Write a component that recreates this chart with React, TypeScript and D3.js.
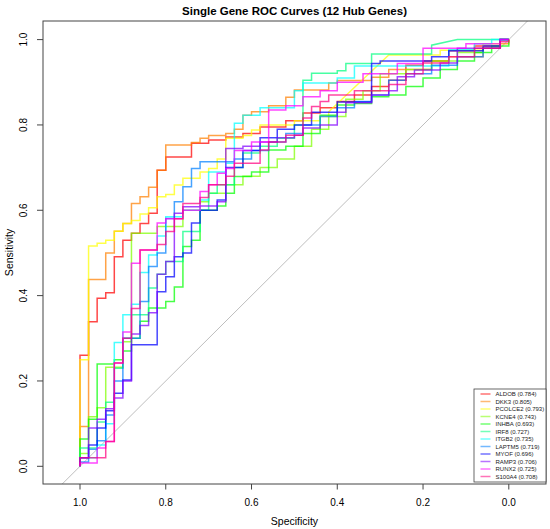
import React from 'react';
import * as d3 from 'd3';

// ---------- data ----------
const genes = ['ALDOB', 'DKK3', 'PCOLCE2', 'KCNE4', 'INHBA', 'IRF8', 'ITGB2', 'LAPTM5', 'MYOF', 'RAMP3', 'RUNX2', 'S100A4'];
const aucs = [0.784, 0.805, 0.793, 0.743, 0.693, 0.727, 0.735, 0.719, 0.696, 0.706, 0.725, 0.708];
const colors = ['#FF0000', '#FF8000', '#FFFF00', '#80FF00', '#00FF00', '#00FF80', '#00FFFF', '#0080FF', '#0000FF', '#8000FF', '#FF00FF', '#FF0080'];

// [specificity, sensitivity, diagonal?]
const aldob = [[1, 0], [1, 0.26], [0.98, 0.339], [0.96, 0.394], [0.94, 0.407], [0.92, 0.491], [0.9, 0.53], [0.88, 0.546], [0.86, 0.569], [0.84, 0.593], [0.82, 0.694], [0.8, 0.725], [0.74, 0.757], [0.7, 0.765], [0.66, 0.772], [0.62, 0.78], [0.58, 0.795], [0.52, 0.81], [0.48, 0.828], [0.44, 0.84], [0.4, 0.855], [0.36, 0.87], [0.32, 0.89], [0.28, 0.905], [0.24, 0.94], [0.2, 0.95], [0.14, 0.974], [0.08, 0.985], [0.02, 1], [0, 1]];
const dkk3 = [[1, 0], [1, 0.093], [0.98, 0.438], [0.94, 0.5], [0.92, 0.551], [0.9, 0.569], [0.88, 0.616], [0.86, 0.632], [0.84, 0.654], [0.82, 0.694], [0.8, 0.753], [0.74, 0.759], [0.72, 0.769], [0.7, 0.775], [0.66, 0.78], [0.64, 0.79], [0.62, 0.823], [0.6, 0.831], [0.56, 0.845], [0.52, 0.865], [0.5, 0.882], [0.42, 0.898], [0.4, 0.904], [0.32, 0.912], [0.28, 0.93], [0.18, 0.95], [0.14, 0.96], [0.06, 0.98], [0.02, 0.99], [0, 1]];
const pcolce2 = [[1, 0], [1, 0.25], [0.98, 0.516], [0.96, 0.523], [0.94, 0.53], [0.92, 0.551], [0.9, 0.569], [0.88, 0.576], [0.86, 0.591], [0.84, 0.606], [0.82, 0.632], [0.8, 0.637], [0.78, 0.659], [0.76, 0.675], [0.72, 0.69], [0.7, 0.698], [0.68, 0.72], [0.66, 0.769], [0.62, 0.775], [0.6, 0.788], [0.58, 0.8], [0.5, 0.81], [0.44, 0.82], [0.42, 0.831], [0.28, 0.964, 1], [0.16, 0.975], [0.06, 0.99], [0.02, 1], [0, 1]];
const kcne4 = [[1, 0], [1, 0.03], [0.98, 0.116], [0.96, 0.137], [0.94, 0.232], [0.9, 0.292], [0.88, 0.546], [0.82, 0.562], [0.76, 0.6], [0.72, 0.62], [0.7, 0.64], [0.66, 0.66], [0.62, 0.68], [0.58, 0.7], [0.54, 0.72], [0.5, 0.75], [0.46, 0.79], [0.42, 0.82], [0.38, 0.86], [0.34, 0.88], [0.3, 0.92], [0.24, 0.93], [0.18, 0.95], [0.12, 0.97], [0.06, 0.98], [0.02, 1], [0, 1]];
const inhba = [[1, 0], [1, 0.064], [0.98, 0.11], [0.96, 0.24], [0.92, 0.25], [0.9, 0.27], [0.88, 0.3], [0.86, 0.34], [0.84, 0.371], [0.8, 0.386], [0.78, 0.42], [0.76, 0.515], [0.74, 0.53], [0.72, 0.6], [0.68, 0.61], [0.66, 0.64], [0.64, 0.679], [0.6, 0.69], [0.56, 0.741], [0.52, 0.75], [0.48, 0.78], [0.44, 0.823], [0.4, 0.847], [0.36, 0.85], [0.32, 0.866], [0.28, 0.87], [0.24, 0.89], [0.2, 0.91], [0.16, 0.93], [0.12, 0.95], [0.08, 0.97], [0.04, 0.985], [0, 1]];
const irf8 = [[1, 0], [1, 0.043], [0.96, 0.104], [0.94, 0.15], [0.92, 0.23], [0.9, 0.3], [0.88, 0.355], [0.84, 0.418], [0.82, 0.45], [0.8, 0.48], [0.76, 0.55], [0.72, 0.6], [0.7, 0.64], [0.68, 0.66], [0.64, 0.7], [0.62, 0.734], [0.58, 0.75], [0.54, 0.769], [0.5, 0.8], [0.48, 0.905], [0.46, 0.921], [0.4, 0.927], [0.38, 0.944], [0.32, 0.966], [0.18, 0.987], [0.12, 1, 1], [0, 1]];
const itgb2 = [[1, 0], [1, 0.02], [0.96, 0.05], [0.94, 0.1], [0.92, 0.29], [0.9, 0.355], [0.88, 0.38], [0.86, 0.454], [0.84, 0.495], [0.82, 0.54], [0.8, 0.585], [0.76, 0.6], [0.72, 0.624], [0.7, 0.69], [0.66, 0.71], [0.64, 0.804], [0.62, 0.823], [0.58, 0.84], [0.5, 0.88], [0.48, 0.898], [0.4, 0.91], [0.36, 0.938], [0.14, 0.976], [0.08, 0.99], [0.04, 1], [0, 1]];
const laptm5 = [[1, 0], [1, 0.01], [0.98, 0.04], [0.96, 0.06], [0.94, 0.12], [0.92, 0.2], [0.9, 0.3], [0.86, 0.386], [0.84, 0.468], [0.82, 0.5], [0.8, 0.581], [0.78, 0.62], [0.76, 0.655], [0.74, 0.698], [0.72, 0.714], [0.64, 0.72], [0.6, 0.74], [0.56, 0.76], [0.52, 0.78], [0.48, 0.8], [0.44, 0.82], [0.4, 0.84], [0.36, 0.855], [0.32, 0.87], [0.28, 0.905], [0.24, 0.92], [0.18, 0.94], [0.12, 0.96], [0.06, 0.98], [0.02, 1], [0, 1]];
const myof = [[1, 0], [1, 0.02], [0.98, 0.05], [0.96, 0.09], [0.94, 0.13], [0.92, 0.171], [0.9, 0.202], [0.88, 0.285], [0.82, 0.409], [0.8, 0.444], [0.78, 0.491], [0.76, 0.5], [0.74, 0.57], [0.72, 0.6], [0.68, 0.624], [0.66, 0.7], [0.62, 0.74], [0.58, 0.77], [0.54, 0.79], [0.5, 0.8], [0.46, 0.83], [0.4, 0.854], [0.32, 0.944], [0.3, 0.95], [0.18, 0.96], [0.14, 0.974], [0.06, 0.985], [0.02, 1], [0, 1]];
const ramp3 = [[1, 0], [1, 0.02], [0.98, 0.09], [0.96, 0.11], [0.94, 0.135], [0.92, 0.16], [0.9, 0.2], [0.88, 0.31], [0.86, 0.33], [0.84, 0.36], [0.82, 0.45], [0.8, 0.48], [0.78, 0.593], [0.76, 0.608], [0.72, 0.61], [0.68, 0.62], [0.66, 0.745], [0.62, 0.75], [0.58, 0.76], [0.54, 0.77], [0.5, 0.776], [0.48, 0.793], [0.44, 0.8], [0.4, 0.83], [0.38, 0.852], [0.32, 0.87], [0.28, 0.88], [0.26, 0.913], [0.22, 0.929], [0.16, 0.945], [0.12, 0.98], [0.02, 1], [0, 1]];
const runx2 = [[1, 0], [1, 0.008], [0.96, 0.043], [0.94, 0.058], [0.92, 0.242], [0.9, 0.315], [0.88, 0.476], [0.86, 0.507], [0.82, 0.57], [0.8, 0.58], [0.76, 0.6], [0.72, 0.644], [0.7, 0.66], [0.68, 0.687], [0.66, 0.698], [0.64, 0.74], [0.6, 0.76], [0.56, 0.835], [0.52, 0.845], [0.48, 0.866], [0.44, 0.88], [0.4, 0.9], [0.34, 0.92], [0.26, 0.944], [0.2, 0.98], [0.1, 0.99], [0.02, 1], [0, 1]];
const s100a4 = [[1, 0], [1, 0.02], [0.94, 0.058], [0.92, 0.242], [0.9, 0.3], [0.88, 0.37], [0.86, 0.507], [0.82, 0.52], [0.8, 0.55], [0.78, 0.58], [0.76, 0.616], [0.72, 0.63], [0.7, 0.66], [0.66, 0.68], [0.64, 0.71], [0.58, 0.741], [0.56, 0.76], [0.52, 0.776], [0.48, 0.816], [0.46, 0.843], [0.44, 0.855], [0.42, 0.87], [0.36, 0.88], [0.28, 0.895], [0.24, 0.92], [0.2, 0.945], [0.14, 0.96], [0.08, 0.98], [0.02, 0.995], [0, 1]];

const curves = [aldob, dkk3, pcolce2, kcne4, inhba, irf8, itgb2, laptm5, myof, ramp3, runx2, s100a4];
const tickValues = [1.0, 0.8, 0.6, 0.4, 0.2, 0.0];
const tickLabels = ['1.0', '0.8', '0.6', '0.4', '0.2', '0.0'];

// ---------- layout ----------
const W = 550, H = 529;
const box = { left: 43, right: 546, top: 21, bottom: 484 };
const x = d3.scaleLinear().domain([1, 0]).range([80, 508.8]);
const y = d3.scaleLinear().domain([0, 1]).range([466.3, 39.6]);
const FONT = "'Liberation Sans', Arial, Helvetica, sans-serif";

function corners(pts: number[][]): [number, number][] {
  const out: [number, number][] = [[pts[0][0], pts[0][1]]];
  for (let i = 1; i < pts.length; i++) {
    const [s, se, d] = pts[i];
    const prev = out[out.length - 1];
    if (d) out.push([s, se]);
    else {
      out.push([s, prev[1]]);
      out.push([s, se]);
    }
  }
  return out;
}

const line = d3.line<[number, number]>().x(d => x(d[0])).y(d => y(d[1]));

export default function App() {
  const legendTop = 389;
  const rowY = (i: number) => 394 + i * 7.5;
  return (
    <svg width={W} height={H} style={{ position: 'absolute', left: 0, top: 0, background: '#fff' }} fontFamily={FONT}>
      <rect x={0} y={0} width={W} height={H} fill="#fff" />
      <defs>
        <clipPath id="plotclip">
          <rect x={box.left} y={box.top} width={box.right - box.left} height={box.bottom - box.top} />
        </clipPath>
      </defs>
      <text x={(box.left + box.right) / 2} y={14.7} textAnchor="middle" fontSize={11.5} fontWeight="bold" fill="#000">
        Single Gene ROC Curves (12 Hub Genes)
      </text>
      <g clipPath="url(#plotclip)">
        <line x1={x(1.1)} y1={y(-0.1)} x2={x(-0.1)} y2={y(1.1)} stroke="#BEBEBE" strokeWidth={1} />
        {curves.map((c, i) => (
          <path key={genes[i]} d={line(corners(c)) || ''} fill="none" stroke={colors[i]} strokeOpacity={0.72} strokeWidth={1.5} />
        ))}
      </g>
      <rect x={box.left} y={box.top} width={box.right - box.left} height={box.bottom - box.top} fill="none" stroke="#444" strokeWidth={1} />
      {tickValues.map((v, i) => (
        <g key={'xt' + i}>
          <line x1={x(v)} x2={x(v)} y1={box.bottom} y2={box.bottom + 5.5} stroke="#444" />
          <text x={x(v)} y={505.5} textAnchor="middle" fontSize={10} fill="#000">{tickLabels[i]}</text>
        </g>
      ))}
      <text x={(box.left + box.right) / 2} y={525} textAnchor="middle" fontSize={10.5} fill="#000">Specificity</text>
      {tickValues.map((v, i) => (
        <g key={'yt' + i}>
          <line x1={box.left} x2={box.left - 6} y1={y(v)} y2={y(v)} stroke="#444" />
          <text transform={`translate(27,${y(v)}) rotate(-90)`} textAnchor="middle" fontSize={10} fill="#000">{tickLabels[i]}</text>
        </g>
      ))}
      <text transform={`translate(13,${(box.top + box.bottom) / 2}) rotate(-90)`} textAnchor="middle" fontSize={10.5} fill="#000">Sensitivity</text>
      <rect x={474} y={legendTop} width={box.right - 474} height={box.bottom - 2 - legendTop} fill="#fff" stroke="#444" strokeWidth={0.8} />
      {genes.map((g, i) => (
        <g key={'lg' + g}>
          <line x1={480.5} x2={490.5} y1={rowY(i)} y2={rowY(i)} stroke={colors[i]} strokeOpacity={0.55} strokeWidth={1.5} />
          <text x={495.5} y={rowY(i)} dominantBaseline="central" fontSize={6} fill="#222">{`${g} (${aucs[i].toFixed(3)})`}</text>
        </g>
      ))}
    </svg>
  );
}
